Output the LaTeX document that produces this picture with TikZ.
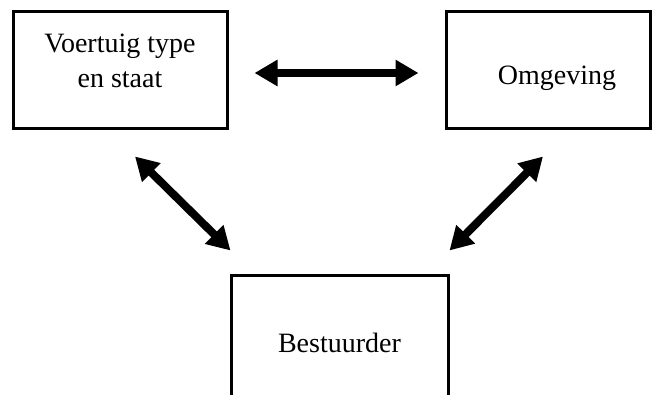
\documentclass[tikz,border=0pt]{standalone}
\usepackage{fontspec}
\setmainfont{Liberation Serif}
\usetikzlibrary{positioning,calc,arrows.meta}

\begin{document}
\begin{tikzpicture}[x=0.5pt, y=-0.5pt,
    box/.style={draw=black, line width=1.5pt, inner sep=0pt},
    lbl/.style={align=center, font=\fontsize{14}{17.5}\selectfont, inner sep=0pt},
    biarrow/.style={line width=4pt, {Triangle[length=11.5pt, width=12.5pt]}-{Triangle[length=11.5pt, width=12.5pt]}}]
  \path[use as bounding box, clip] (0,0) rectangle (654,395);

  % Boxes
  \node[box, minimum width=107pt, minimum height=58.5pt] (voertuig) at (120,70.5) {};
  \node[box, minimum width=102pt, minimum height=58.5pt] (omgeving) at (548,70.5) {};
  \node[box, minimum width=108.5pt, minimum height=77pt] (bestuurder) at (339.5,353) {};

  % Labels
  \node[lbl] (voertuigtxt) at ([yshift=4.75pt]voertuig.center) {Voertuig type\\en staat};
  \node[lbl] (omgevingtxt) at ([xshift=4.5pt, yshift=-3.75pt]omgeving.center) {Omgeving};
  \node[lbl] (bestuurdertxt) at ([yshift=5pt]bestuurder.center) {Bestuurder};

  % Arrows
  \draw[biarrow, shorten <=13pt, shorten >=13pt] ([yshift=-1.25pt]voertuig.east) -- ([yshift=-1.25pt]omgeving.west);
  \draw[biarrow] ([xshift=7.5pt, yshift=-13pt]voertuig.south) -- ([xshift=0.5pt, yshift=12pt]bestuurder.north west);
  \draw[biarrow] ([xshift=-2.5pt, yshift=-13pt]omgeving.south) -- ([yshift=12pt]bestuurder.north east);
\end{tikzpicture}
\end{document}
